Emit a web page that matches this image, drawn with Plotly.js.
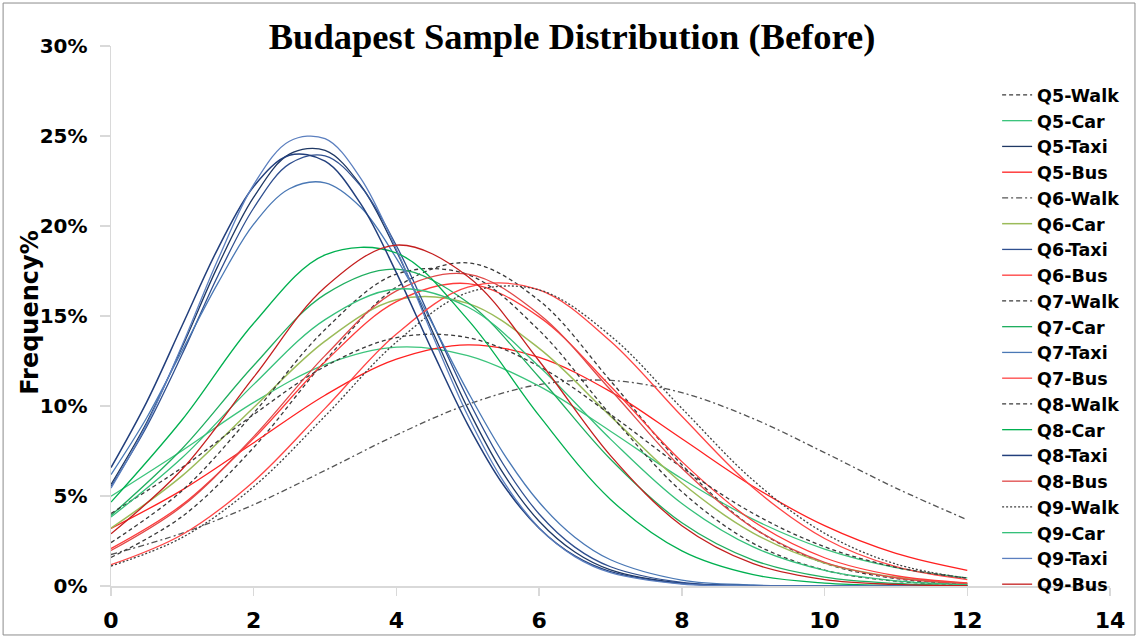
<!DOCTYPE html>
<html>
<head>
<meta charset="utf-8">
<script src="https://cdn.plot.ly/plotly-3.0.1.min.js"></script>
<style>html,body{margin:0;padding:0;background:#fff;}#chart{width:1138px;height:638px;}</style>
</head>
<body>
<div id="chart"></div>
<script>
// x positions (read at integer points; taxi curves read more densely around the peak)
const xVals = [0,1,2,3,4,5,6,7,8,9,10,11,12];
const xTaxi = [0,0.5,1,1.5,2,2.5,3,3.5,4,4.5,5,5.5,6,6.5,7,8,9,10,11,12];

// Frequency (%)
const q5Walk = [1.59,3.87,7.70,12.5,16.6,17.95,15.86,11.4,6.74,3.24,1.27,0.41,0.11];
const q5Car  = [4.99,7.53,10.2,12.3,13.27,12.8,11.1,8.6,5.96,3.70,2.05,1.02,0.45];
const q5Taxi = [5.64,9.08,13.3,17.8,21.6,23.99,24.2,22.26,18.6,14.2,9.87,6.24,3.60,1.89,0.90,0.156,0.019,0.002,0,0];
const q5Bus  = [3.2,5.34,7.96,10.6,12.6,13.4,12.7,10.8,8.18,5.53,3.35,1.81,0.87];
const q6Walk = [1.75,2.94,4.52,6.42,8.39,10.09,11.19,11.42,10.74,9.30,7.41,5.44,3.68];
const q6Car  = [3.21,6.13,9.92,13.6,15.9,15.7,13.2,9.44,5.72,2.94,1.28,0.48,0.15];
const q6Taxi = [5.53,8.85,12.9,17.25,21.0,23.45,23.9,22.21,18.9,14.66,10.4,6.75,4.0,2.16,1.07,0.20,0.026,0.002,0,0];
const q6Bus  = [2.08,4.52,8.2,12.46,15.8,16.8,14.95,11.1,6.91,3.6,1.57,0.57,0.17];
const q7Walk = [2.41,5.31,9.61,14.25,17.33,17.3,14.2,9.51,5.24,2.37,0.88,0.27,0.07];
const q7Car  = [3.92,7.64,12.25,16.2,17.6,15.75,11.6,7.04,3.51,1.44,0.49,0.14,0.03];
const q7Taxi = [6.19,9.35,13.1,16.84,20.1,22.07,22.4,21.04,18.2,14.6,10.8,7.37,4.65,2.71,1.46,0.33,0.055,0.007,0.001,0];
const q7Bus  = [1.18,2.86,5.81,9.87,14.0,16.6,16.45,13.6,9.43,5.46,2.64,1.07,0.36];
const q8Walk = [4.03,6.59,9.53,12.2,13.8,13.8,12.2,9.53,6.59,4.03,2.18,1.04,0.44];
const q8Car  = [4.66,9.25,14.6,18.4,18.5,14.8,9.46,4.81,1.95,0.63,0.16,0.03,0.006];
const q8Taxi = [6.58,10.22,14.5,18.76,22.2,23.93,23.6,21.23,17.4,13.09,8.97,5.61,3.21,1.67,0.80,0.14,0.017,0.001,0,0];
const q8Bus  = [1.97,4.44,8.30,12.8,16.4,17.33,15.1,10.9,6.54,3.23,1.32,0.45,0.12];
const q9Walk = [1.11,2.70,5.52,9.44,13.55,16.3,16.45,13.9,9.87,5.87,2.93,1.22,0.43];
const q9Car  = [3.83,7.14,11.2,14.8,16.5,15.5,12.2,8.16,4.58,2.17,0.87,0.29,0.08];
const q9Taxi = [5.44,8.98,13.4,18.15,22.3,24.71,24.85,22.65,18.7,13.98,9.47,5.81,3.23,1.63,0.74,0.11,0.012,0.001,0,0];
const q9Bus  = [2.90,6.5,11.6,16.6,18.94,17.2,12.5,7.24,3.35,1.24,0.36,0.085,0.016];

const seriesNames = ['Q5-Walk','Q5-Car','Q5-Taxi','Q5-Bus','Q6-Walk','Q6-Car','Q6-Taxi','Q6-Bus',
  'Q7-Walk','Q7-Car','Q7-Taxi','Q7-Bus','Q8-Walk','Q8-Car','Q8-Taxi','Q8-Bus',
  'Q9-Walk','Q9-Car','Q9-Taxi','Q9-Bus'];
const seriesValues = [q5Walk,q5Car,q5Taxi,q5Bus,q6Walk,q6Car,q6Taxi,q6Bus,
  q7Walk,q7Car,q7Taxi,q7Bus,q8Walk,q8Car,q8Taxi,q8Bus,q9Walk,q9Car,q9Taxi,q9Bus];
const xTicks = [0,2,4,6,8,10,12,14];
const yTicks = [0,5,10,15,20,25,30];

const styles = [
  {c:'#3a3a3a', d:'4px,3px', w:1.3},
  {c:'#3cc47c', d:'solid', w:1.3},
  {c:'#1f3864', d:'solid', w:1.3},
  {c:'#ff2020', d:'solid', w:1.3},
  {c:'#555555', d:'6px,3px,2px,3px', w:1.3},
  {c:'#9bbb59', d:'solid', w:1.5},
  {c:'#2f4f8f', d:'solid', w:1.3},
  {c:'#ff3b3b', d:'solid', w:1.3},
  {c:'#3a3a3a', d:'4px,3px', w:1.3},
  {c:'#1fae5f', d:'solid', w:1.3},
  {c:'#4a78b5', d:'solid', w:1.3},
  {c:'#ff4545', d:'solid', w:1.3},
  {c:'#3a3a3a', d:'4px,3px', w:1.3},
  {c:'#00b050', d:'solid', w:1.3},
  {c:'#223f7c', d:'solid', w:1.5},
  {c:'#e04848', d:'solid', w:1.3},
  {c:'#404040', d:'2px,2px', w:1.3},
  {c:'#35c07a', d:'solid', w:1.3},
  {c:'#5b7fbf', d:'solid', w:1.3},
  {c:'#c41e1e', d:'solid', w:1.3}
];

const traces = seriesNames.map((n,i)=>({
  type:'scatter', mode:'lines', name:n,
  x: n.indexOf('Taxi')>=0 ? xTaxi : xVals, y:seriesValues[i],
  line:{color:styles[i].c, dash:styles[i].d, width:styles[i].w, shape:'spline', smoothing:1}
}));

const layout = {
  width:1138, height:638,
  paper_bgcolor:'#ffffff', plot_bgcolor:'#ffffff',
  margin:{l:111, r:28, t:46, b:52},
  title:{text:'Budapest Sample Distribution (Before)', x:0.5027, xanchor:'center', y:0.943, yanchor:'middle',
    font:{family:'Liberation Serif, Times New Roman, serif', size:36.5, color:'#000', weight:'bold'}},
  font:{family:'DejaVu Sans, sans-serif', color:'#000'},
  xaxis:{range:[0,14], tickvals:xTicks, ticktext:xTicks.map(String), showgrid:false, zeroline:false,
    showline:true, linecolor:'#d9d9d9', linewidth:1.5, ticks:'outside', tickcolor:'#d9d9d9', ticklen:8, tickwidth:1.5,
    ticklabelstandoff:6,
    tickfont:{family:'DejaVu Sans, sans-serif', size:22, color:'#000', weight:'bold'}},
  yaxis:{range:[0,30], tickvals:yTicks, ticktext:yTicks.map(v=>v+'%'), showgrid:false, zeroline:false,
    showline:true, linecolor:'#d9d9d9', linewidth:1.5, ticks:'outside', tickcolor:'#d9d9d9', ticklen:10, tickwidth:1.5,
    ticklabelstandoff:8,
    tickfont:{family:'DejaVu Sans, sans-serif', size:20, color:'#000', weight:'bold'},
    title:{text:''}},
  annotations:[{text:'Frequency%', xref:'paper', yref:'paper', x:-0.0805, y:0.507, xanchor:'center', yanchor:'middle',
    textangle:-90, showarrow:false, font:{family:'DejaVu Sans, sans-serif', size:24, color:'#000', weight:'bold'}}],
  legend:{x:0.887, xanchor:'left', y:0.9425, yanchor:'top', bgcolor:'rgba(0,0,0,0)', itemwidth:30,
    font:{family:'DejaVu Sans, sans-serif', size:17.5, color:'#000', weight:'bold'}, tracegroupgap:0},
  showlegend:true,
  shapes:[{type:'rect', xref:'paper', yref:'paper', x0:-0.108, x1:1.025, y0:-0.0907, y1:1.0796,
    line:{color:'#8c8c8c', width:1}, fillcolor:'rgba(0,0,0,0)', layer:'below'}]
};

Plotly.newPlot('chart', traces, layout, {displayModeBar:false, staticPlot:true});
</script>
</body>
</html>
